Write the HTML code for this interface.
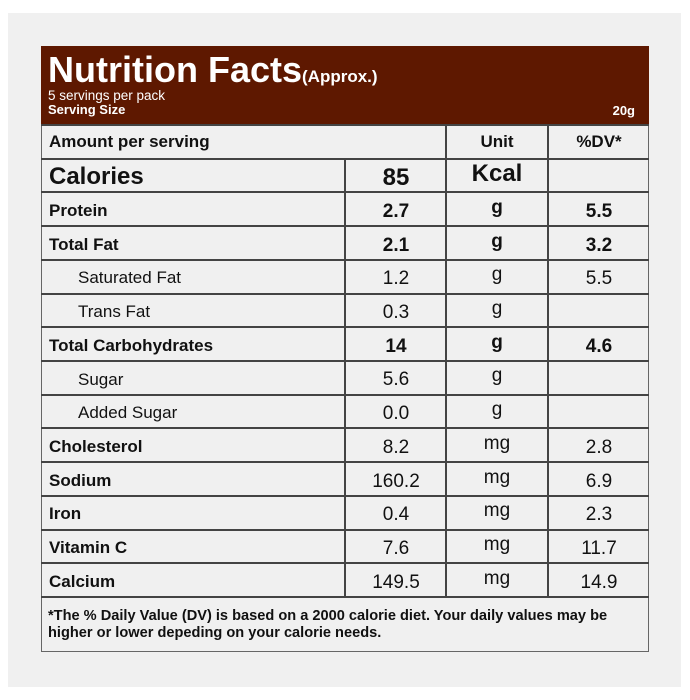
<!DOCTYPE html>
<html><head><style>
body{margin:0;background:#fff;width:690px;height:700px;position:relative;font-family:"Liberation Sans",Arial,sans-serif;color:#111;overflow:hidden}
#panel{position:absolute;left:8px;top:13px;width:673px;height:674px;background:#f0f0f0}
#tbl{position:absolute;left:41px;top:46px;width:608px;height:606px;border:1px solid #666;box-sizing:border-box;background:#f0f0f0}
#hdr{position:absolute;left:41px;top:46px;width:608px;height:79px;background:#5e1800;color:#fff}
.h{position:absolute;height:2px;background:#444;left:41px;width:608px}
.v{position:absolute;width:2px;background:#444}
.t{position:absolute;font-size:17px;line-height:20px;white-space:nowrap}
.b{font-weight:bold}
.c{text-align:center;width:100px}
</style></head><body>
<div id="panel"></div>
<div id="tbl"></div>
<div id="hdr">
<div style="position:absolute;left:7px;top:3px;font-size:36px;font-weight:bold;line-height:42px;white-space:nowrap">Nutrition Facts<span style="font-size:17px">(Approx.)</span></div>
<div style="position:absolute;left:7px;top:42px;font-size:13.5px">5 servings per pack</div>
<div style="position:absolute;left:7px;top:56px;font-size:13px;font-weight:bold">Serving Size</div>
<div style="position:absolute;right:14px;top:57px;font-size:13px;font-weight:bold">20g</div>
</div>
<div id="lines"></div>
<div id="txt"></div>
<div class="t b" style="left:48px;top:608px;font-size:14.6px;line-height:17px;width:600px;white-space:normal">*The % Daily Value (DV) is based on a 2000 calorie diet. Your daily values may be higher or lower depeding on your calorie needs.</div>
<script>
var rows=[["Amount per serving","","Unit","%DV*",1,0],["Calories","85","Kcal","",1,2],["Protein","2.7","g","5.5",1,0],["Total Fat","2.1","g","3.2",1,0],["Saturated Fat","1.2","g","5.5",0,1],["Trans Fat","0.3","g","",0,1],["Total Carbohydrates","14","g","4.6",1,0],["Sugar","5.6","g","",0,1],["Added Sugar","0.0","g","",0,1],["Cholesterol","8.2","mg","2.8",0,0],["Sodium","160.2","mg","6.9",0,0],["Iron","0.4","mg","2.3",0,0],["Vitamin C","7.6","mg","11.7",0,0],["Calcium","149.5","mg","14.9",0,0]];
var L='',T='',h=33.71,y0=125;
for(var i=0;i<=14;i++){L+='<div class="h" style="top:'+(y0+i*h-1)+'px"></div>';}
L+='<div class="v" style="left:445px;top:125px;height:472px"></div><div class="v" style="left:547px;top:125px;height:472px"></div><div class="v" style="left:344px;top:159px;height:438px"></div>';
rows.forEach(function(r,i){var y=y0+i*h;var big=r[5]==2;var fs=big?24:17;var vs=big?24:(i==0?17:19);
var ty=y+(h-fs*1.2)/2+(i==0?0:2), vy=y+(h-vs*1.2)/2+(i==0?0:3);
var lb=(r[4]||big||i>=9)?' b':'';var vb=(i<4||i==6)?' b':'';
T+='<div class="t'+lb+'" style="left:'+(r[5]==1?78:49)+'px;top:'+ty+'px;font-size:'+fs+'px;line-height:'+(fs*1.2)+'px">'+r[0]+'</div>';
T+='<div class="t c'+vb+'" style="left:346px;top:'+vy+'px;font-size:'+vs+'px;line-height:'+(vs*1.2)+'px">'+r[1]+'</div>';
T+='<div class="t c'+vb+'" style="left:447px;top:'+(vy-(i==0?0:4))+'px;font-size:'+vs+'px;line-height:'+(vs*1.2)+'px">'+r[2]+'</div>';
T+='<div class="t c'+vb+'" style="left:549px;top:'+vy+'px;font-size:'+vs+'px;line-height:'+(vs*1.2)+'px">'+r[3]+'</div>';});
document.getElementById('lines').innerHTML=L;document.getElementById('txt').innerHTML=T;
</script>
</body></html>
